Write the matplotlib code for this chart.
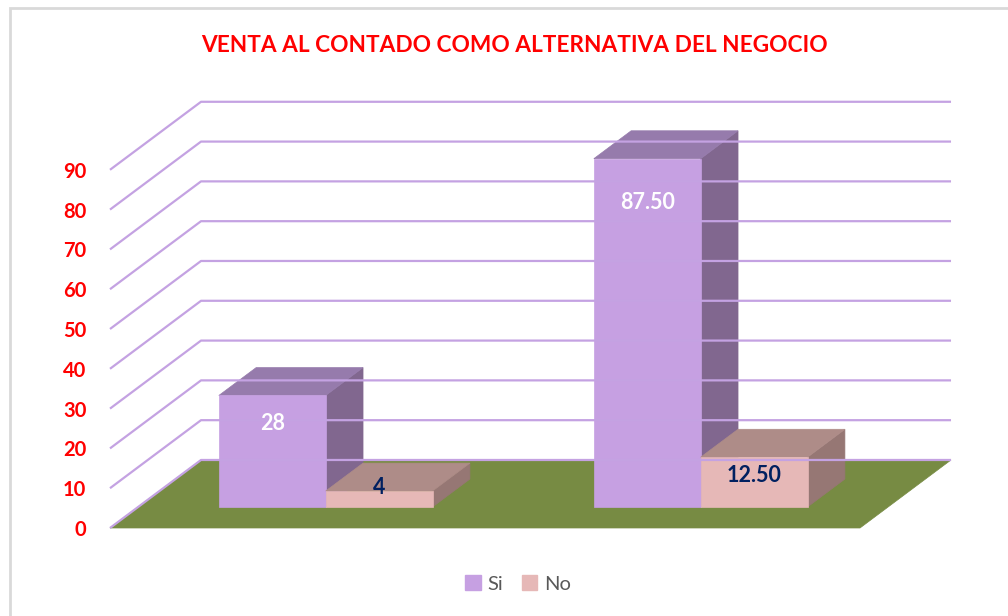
import matplotlib

matplotlib.use("Agg")
import matplotlib.pyplot as plt
from matplotlib.patches import Patch, Polygon, Rectangle

plt.rcParams["font.family"] = ["Lato", "DejaVu Sans"]

# chart data
categories = ["Grupo 1", "Grupo 2"]
series_names = ["Si", "No"]
si_values = [28, 87.50]
no_values = [4, 12.50]
value_labels = [["28", "87.50"], ["4", "12.50"]]
grid_values = [0, 10, 20, 30, 40, 50, 60, 70, 80, 90]

# colours: front, top, side
SI_COLORS = ("#C6A0E2", "#967BAC", "#81678F")
NO_COLORS = ("#E6B8B7", "#AE8C88", "#967774")
FLOOR_COLOR = "#778B43"
GRID_COLOR = "#C4A2E2"
RED = "#FF0000"
NAVY = "#002060"

# oblique projection, in data units (category, value)
DEPTH_X = 0.2427
DEPTH_Y = 17.09
BAR_WIDTH = 0.285
BAR_D0, BAR_D1 = 0.31, 0.72


def proj(cat, val, depth):
    return (cat + depth * DEPTH_X, val + depth * DEPTH_Y)


def draw_box(axis, x0, x1, value, colors):
    front, top, side = colors
    side_pts = [proj(x1, 0, BAR_D0), proj(x1, 0, BAR_D1), proj(x1, value, BAR_D1), proj(x1, value, BAR_D0)]
    top_pts = [proj(x0, value, BAR_D0), proj(x1, value, BAR_D0), proj(x1, value, BAR_D1), proj(x0, value, BAR_D1)]
    front_pts = [proj(x0, 0, BAR_D0), proj(x1, 0, BAR_D0), proj(x1, value, BAR_D0), proj(x0, value, BAR_D0)]
    for pts, color in ((side_pts, side), (top_pts, top), (front_pts, front)):
        axis.add_patch(Polygon(pts, closed=True, facecolor=color, edgecolor=color, linewidth=0.5))


fig = plt.figure(figsize=(10.08, 6.16), dpi=100)
ax = fig.add_axes([0, 0, 1, 1])
ax.set_xlim(-110 / 375, (1008 - 110) / 375)
ax.set_ylim(-(616 - 528) / 3.98, 528 / 3.98)
ax.axis("off")

# outer chart border
fig.patches.append(
    Rectangle((10 / 1008, -0.1), 1.2, 1 - 8 / 616 + 0.1, transform=fig.transFigure,
              facecolor="none", edgecolor="#D9D9D9", linewidth=2)
)

n_cat = len(categories)

# floor
floor = [proj(0, 0, 0), proj(n_cat, 0, 0), proj(n_cat, 0, 1), proj(0, 0, 1)]
ax.add_patch(Polygon(floor, closed=True, facecolor=FLOOR_COLOR, edgecolor=FLOOR_COLOR, linewidth=0.5))

# walls gridlines
for v in grid_values:
    fx, fy = proj(0, v, 0)
    bx, by = proj(0, v, 1)
    ex, ey = proj(n_cat, v, 1)
    ax.plot([fx, bx, ex], [fy, by, ey], color=GRID_COLOR, linewidth=1.6, solid_capstyle="butt")
    ax.annotate(str(v), (fx, fy), xytext=(-17, -1.5), textcoords="offset points",
                ha="right", va="center", color=RED, fontsize=14.5, fontweight="bold")

# bars
for i in range(n_cat):
    center = i + 0.5
    si_x0, si_x1 = center - BAR_WIDTH, center
    no_x0, no_x1 = center, center + BAR_WIDTH
    draw_box(ax, si_x0, si_x1, si_values[i], SI_COLORS)
    draw_box(ax, no_x0, no_x1, no_values[i], NO_COLORS)

    si_v = si_values[i]
    lx, ly = proj((si_x0 + si_x1) / 2, si_v - 5 - 0.07 * si_v, BAR_D0)
    ax.text(lx, ly, value_labels[0][i], ha="center", va="center", color="white",
            fontsize=15.5, fontweight="bold")

    no_v = no_values[i]
    label_v = no_v - 4.5 if no_v >= 8 else no_v + 0.8
    lx, ly = proj((no_x0 + no_x1) / 2, label_v, BAR_D0)
    ax.text(lx, ly, value_labels[1][i], ha="center", va="center", color=NAVY,
            fontsize=15.5, fontweight="bold")

fig.text(514 / 1008, 1 - 46 / 616, "VENTA AL CONTADO COMO ALTERNATIVA DEL NEGOCIO",
         ha="center", va="center", color=RED, fontsize=16.3, fontweight="bold")

handles = [Patch(facecolor=SI_COLORS[0], edgecolor=SI_COLORS[0]),
           Patch(facecolor=NO_COLORS[0], edgecolor=NO_COLORS[0])]
fig.legend(handles, series_names, loc="center", bbox_to_anchor=(518 / 1008, 1 - 584 / 616),
           ncol=2, frameon=False, fontsize=14.5, labelcolor="#595959",
           handlelength=0.75, handleheight=0.75, handletextpad=0.35, columnspacing=0.9)

fig.savefig("out.png", dpi=100)
